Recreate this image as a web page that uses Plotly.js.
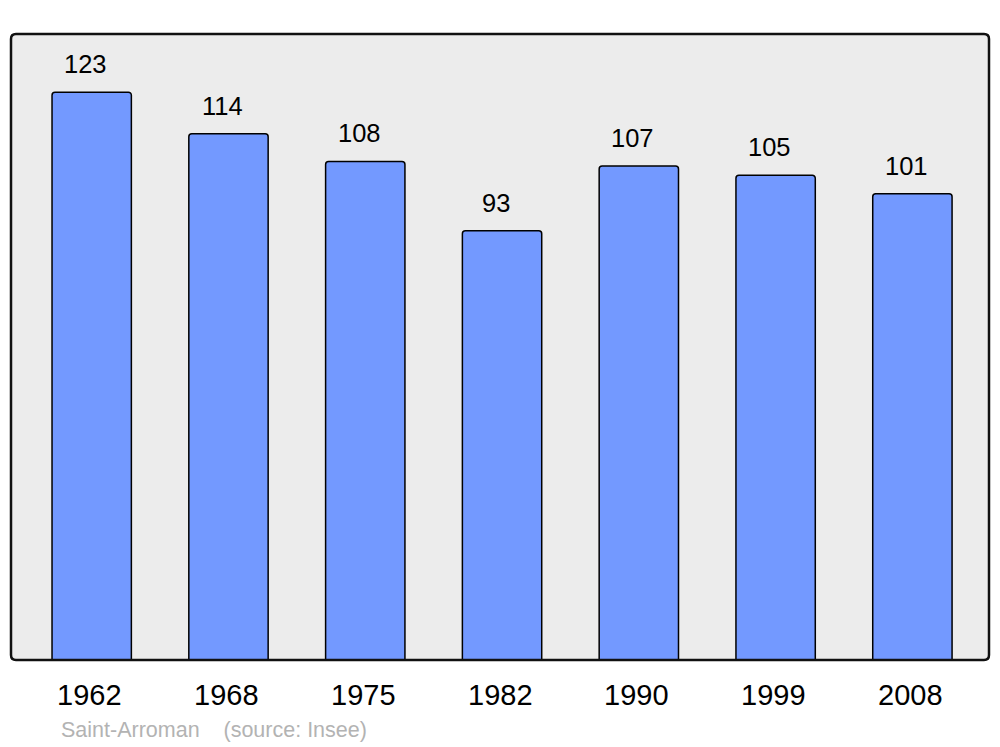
<!DOCTYPE html>
<html><head><meta charset="utf-8">
<script src="https://cdn.plot.ly/plotly-3.0.1.min.js"></script>
<style>html,body{margin:0;padding:0;background:#fff;}#chart{width:1000px;height:747px;}</style>
</head><body><div id="chart"></div>
<script>
const years = ["1962","1968","1975","1982","1990","1999","2008"];
const population = [123,114,108,93,107,105,101];
const sourceText = "Saint-Arroman    (source: Insee)";

const W=1000,H=747,ml=11,mr=11,mt=34,mb=87;
const pw=W-ml-mr, ph=H-mt-mb;
const r=5, rx=r/pw, ry=r/ph;
const framePath = `M ${rx} 0 L ${1-rx} 0 Q 1 0 1 ${ry} L 1 ${1-ry} Q 1 1 ${1-rx} 1 L ${rx} 1 Q 0 1 0 ${1-ry} L 0 ${ry} Q 0 0 ${rx} 0 Z`;
const FONT='Liberation Sans, Arial, sans-serif';

const annotations = [];
years.forEach((y,i)=>{
  annotations.push({
    x: i, y: population[i], xref:'x', yref:'y', text: String(population[i]),
    showarrow:false, yanchor:'middle', yshift:28, xshift:-6,
    font:{family:FONT, size:25.5, color:'#000'}
  });
  annotations.push({
    x: i, y: 0, xref:'x', yref:'y', text: y,
    showarrow:false, yanchor:'middle', yshift:-35, xshift:-2,
    font:{family:FONT, size:29, color:'#000'}
  });
});
annotations.push({
  xref:'paper', yref:'paper', x:(59-ml)/pw, y:-(730-660)/ph, xanchor:'left', yanchor:'middle',
  text: sourceText, showarrow:false,
  font:{family:FONT, size:21.5, color:'#b3b3b3'}
});

Plotly.newPlot('chart',[{
  type:'bar', x:years, y:population, width:0.58,
  marker:{color:'#7399ff', line:{color:'#000', width:1.5}, cornerradius:3},
  hoverinfo:'none'
}],{
  width:W, height:H, margin:{l:ml,r:mr,t:mt,b:mb,pad:0},
  paper_bgcolor:'#fff', plot_bgcolor:'#ececec',
  showlegend:false,
  xaxis:{type:'category', range:[-0.59,6.56], showgrid:false, zeroline:false, showline:false,
    ticks:'', showticklabels:false},
  yaxis:{range:[0,135.6], showgrid:false, zeroline:false, showline:false, showticklabels:false, ticks:''},
  shapes:[{type:'path', xref:'paper', yref:'paper', path:framePath, line:{color:'#111', width:2.5}, layer:'above'}],
  annotations
},{staticPlot:true});
</script></body></html>
